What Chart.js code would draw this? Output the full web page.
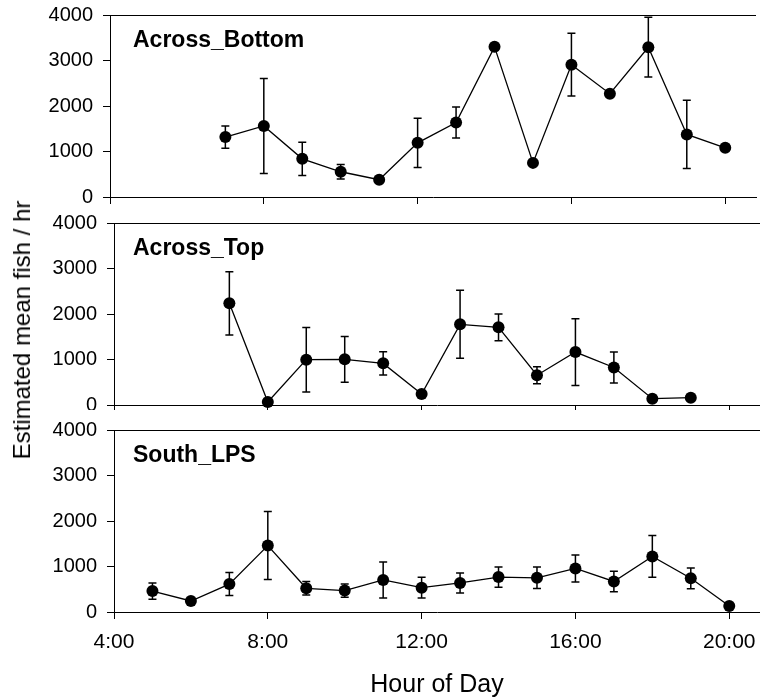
<!DOCTYPE html>
<html>
<head>
<meta charset="utf-8">
<script src="https://cdn.jsdelivr.net/npm/chart.js@4/dist/chart.umd.min.js"></script>
<style>
body{margin:0;background:#fff;}
#wrap{position:relative;width:760px;height:700px;overflow:hidden;}
#wrap canvas{position:absolute;left:0;}
#ytitle{position:absolute;left:22px;top:330px;transform:translate(-50%,-50%) rotate(-90deg);
white-space:nowrap;font-family:'Liberation Sans',Arial,sans-serif;font-size:24px;color:#000;}
</style>
</head>
<body>
<div id="wrap">
<canvas id="c1"></canvas>
<canvas id="c2"></canvas>
<canvas id="c3"></canvas>
<div id="ytitle">Estimated mean fish / hr</div>
</div>
<script>
// hourly means with +/- error per site
let bottomHours = [7,8,9,10,11,12,13,14,15,16,17,18,19,20];
let bottomMean  = [1317,1562,839,555,380,1190,1638,3300,750,2908,2270,3292,1376,1080];
let bottomErr   = [245,1044,365,160,0,540,340,0,0,690,0,657,748,0];

let topHours = [7,8,9,10,11,12,13,14,15,16,17,18,19];
let topMean  = [2234,66,996,1003,915,242,1773,1707,655,1164,824,139,161];
let topErr   = [696,0,710,505,256,0,747,293,187,733,340,0,0];

let southHours = [5,6,7,8,9,10,11,12,13,14,15,16,17,18,19,20];
let southMean  = [459,242,613,1460,521,470,704,535,638,767,752,958,671,1222,741,132];
let southErr   = [180,0,253,748,147,147,397,228,220,224,238,297,224,459,228,0];

let hourTicks = [4,8,12,16,20];
let fishTicks = [0,1000,2000,3000,4000];

const FONT = "'Liberation Sans', Arial, sans-serif";

let panels = [
{id:"c1", top:0,   height:207, padTop:15, padRight:4, xHeight:10, yWidth:110, label:"Across_Bottom", hours:bottomHours, mean:bottomMean, err:bottomErr},
{id:"c2", top:207, height:203, padTop:16, padRight:0, xHeight:5,  yWidth:114, label:"Across_Top",    hours:topHours,    mean:topMean,    err:topErr},
{id:"c3", top:410, height:290, padTop:20, padRight:0, xHeight:88, yWidth:114, label:"South_LPS",     hours:southHours,  mean:southMean,  err:southErr, showX:true}
];

// fixed box sizes so the three panels line up
function fixBox(s, w, h){
if(w !== undefined) s.width = w;
if(h !== undefined) s.height = h;
s.paddingLeft = 0; s.paddingRight = 0; s.paddingTop = 0; s.paddingBottom = 0;
}

function makePanel(p){

let canvas = document.getElementById(p.id);
canvas.width = 760;
canvas.height = p.height;
canvas.style.top = p.top + "px";

// vertical error bars with caps, under the markers
let errorBars = {
id:"errorBars",
beforeDatasetsDraw(chart){
let ctx = chart.ctx;
let x = chart.scales.x, y = chart.scales.y;
ctx.save();
ctx.strokeStyle = "#000";
ctx.lineWidth = 1.5;
p.hours.forEach((h,i)=>{
if(!p.err[i]) return;
let px = x.getPixelForValue(h);
let hi = y.getPixelForValue(p.mean[i] + p.err[i]);
let lo = y.getPixelForValue(p.mean[i] - p.err[i]);
ctx.beginPath();
ctx.moveTo(px,hi); ctx.lineTo(px,lo);
ctx.moveTo(px-4,hi); ctx.lineTo(px+4,hi);
ctx.moveTo(px-4,lo); ctx.lineTo(px+4,lo);
ctx.stroke();
});
ctx.restore();
}
};

// top frame line and the site name
let frame = {
id:"frame",
afterDraw(chart){
let ctx = chart.ctx;
let a = chart.chartArea;
ctx.save();
ctx.strokeStyle = "#000";
ctx.lineWidth = 1;
ctx.beginPath();
ctx.moveTo(a.left, a.top + 0.5);
ctx.lineTo(a.right, a.top + 0.5);
ctx.stroke();
ctx.fillStyle = "#000";
ctx.font = "bold 23px " + FONT;
ctx.textBaseline = "alphabetic";
ctx.fillText(p.label, 133, a.top + 32);
ctx.restore();
}
};

new Chart(canvas,{
type:"scatter",
data:{
datasets:[{
data:p.hours.map((h,i)=>({x:h, y:p.mean[i]})),
showLine:true,
borderColor:"#000",
borderWidth:1.3,
pointRadius:6,
pointBackgroundColor:"#000",
pointBorderColor:"#000",
pointBorderWidth:0,
clip:false
}]
},
options:{
responsive:false,
animation:false,
layout:{autoPadding:false, padding:{top:p.padTop, right:p.padRight, left:0, bottom:0}},
plugins:{legend:{display:false}, tooltip:{enabled:false}},
scales:{
x:{
type:"linear",
min:4,
max:20.8,
afterBuildTicks:s=>{ s.ticks = hourTicks.map(v=>({value:v})); },
afterFit:s=>fixBox(s, undefined, p.xHeight),
grid:{drawOnChartArea:false, tickLength:7, color:"#000"},
border:{color:"#000", width:1},
ticks:{display:!!p.showX, padding:11, color:"#000", autoSkip:false, maxRotation:0,
font:{family:FONT, size:21},
callback:v=>v + ":00"},
title:{display:!!p.showX, text:"Hour of Day", color:"#000", padding:0,
font:{family:FONT, size:25}}
},
y:{
min:0,
max:4000,
afterBuildTicks:s=>{ s.ticks = fishTicks.map(v=>({value:v})); },
afterFit:s=>fixBox(s, p.yWidth),
grid:{drawOnChartArea:false, tickLength:7, color:"#000"},
border:{color:"#000", width:1},
ticks:{padding:10, color:"#000", font:{family:FONT, size:20}, callback:v=>String(v)}
}
}
},
plugins:[errorBars, frame]
});

}

panels.forEach(makePanel);
</script>
</body>
</html>
